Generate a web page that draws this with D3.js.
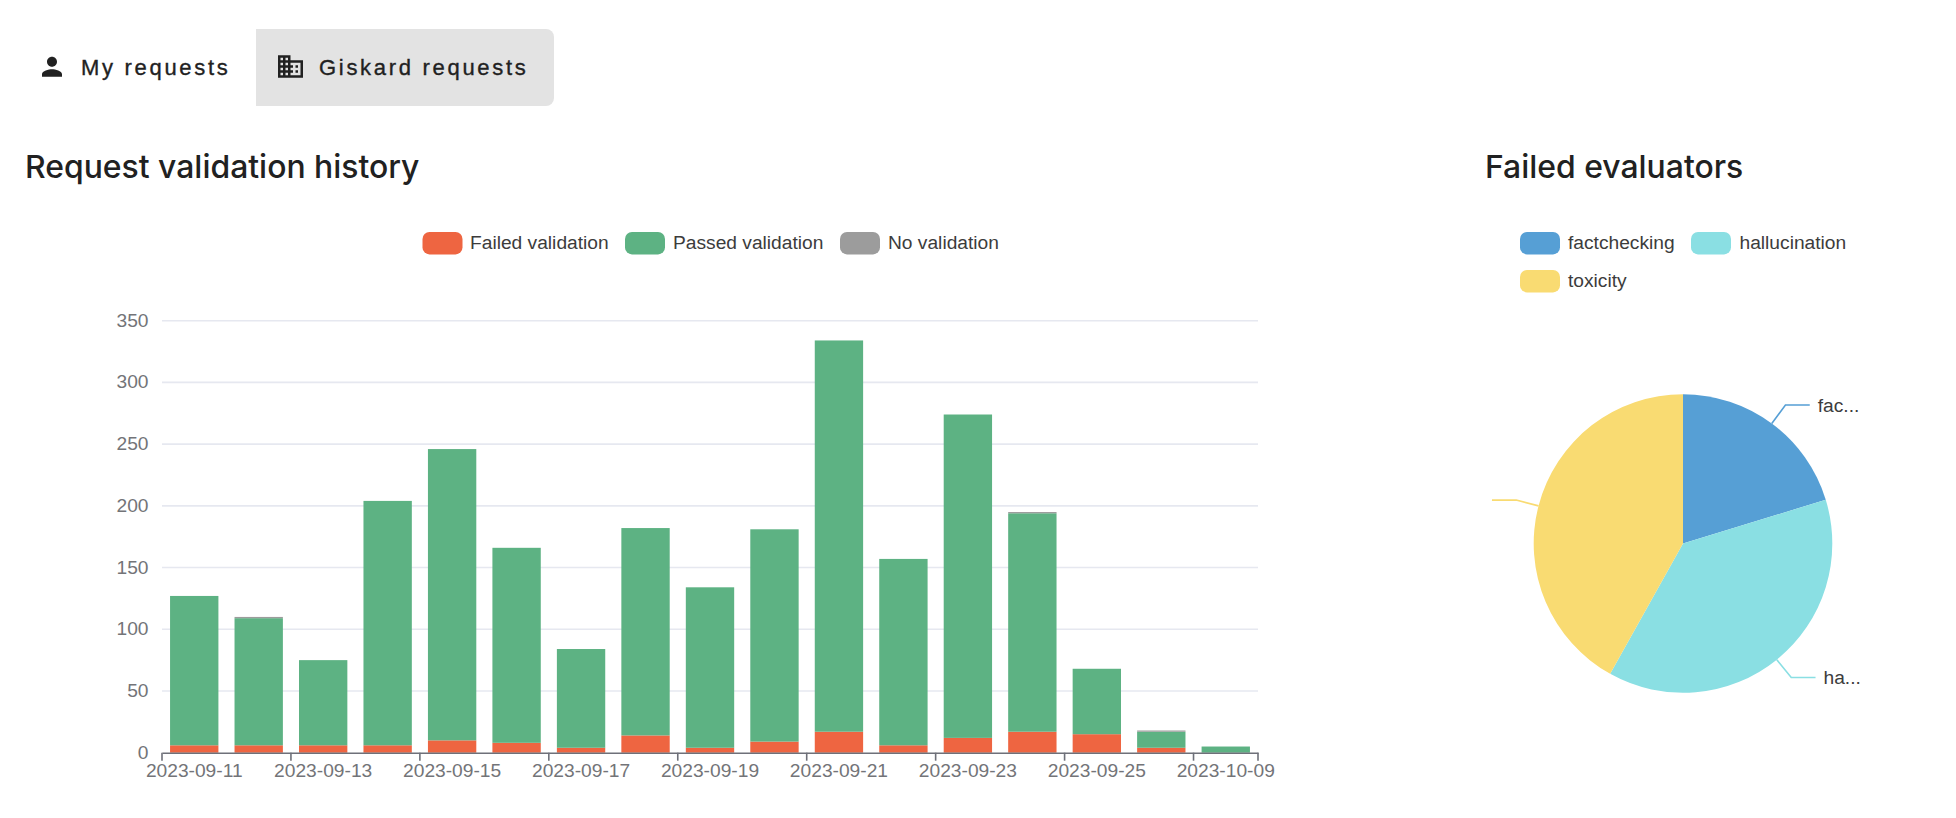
<!DOCTYPE html>
<html>
<head>
<meta charset="utf-8">
<script src="https://d3js.org/d3.v7.min.js"></script>
<style>
  html, body { margin: 0; padding: 0; background: #fff; overflow: hidden; }
  text { font-family: "Liberation Sans", Arial, sans-serif; }
  .title { font-family: Inter, "Liberation Sans", sans-serif; font-weight: 500; fill: #212121; }
</style>
</head>
<body>
<svg id="page" width="1956" height="818"></svg>
<script>
// chart values
const dates = ["2023-09-11","2023-09-12","2023-09-13","2023-09-14","2023-09-15","2023-09-16","2023-09-17","2023-09-18","2023-09-19","2023-09-20","2023-09-21","2023-09-22","2023-09-23","2023-09-24","2023-09-25","2023-09-26","2023-10-09"];
const failed = [6,6,6,6,10,8,4,14,4,9,17,6,12,17,15,4,0];
const passed = [121,103,69,198,236,158,80,168,130,172,317,151,262,177,53,13,5];
const noValidation = [0,1,0,0,0,0,0,0,0,0,0,0,0,1,0,1,0];
const yTicks = [0,50,100,150,200,250,300,350];
const xLabels = ["2023-09-11","2023-09-13","2023-09-15","2023-09-17","2023-09-19","2023-09-21","2023-09-23","2023-09-25","2023-10-09"];

const seriesNames = ["Failed validation","Passed validation","No validation"];
const seriesColors = ["#ee6541","#5db283","#9c9c9c"];

const evaluators = ["factchecking","hallucination","toxicity"];
const evaluatorCounts = [30,56,62];
const evaluatorLabels = ["fac...","ha...",""];
const evaluatorColors = ["#569fd5","#8adfe3","#f9db72"];

const axisColor = "#6e7079";
const labelColor = "#737478";
const textColor = "#3c3c3c";

const svg = d3.select("#page");

// tabs
const personIcon = "M12 12c2.21 0 4-1.79 4-4s-1.79-4-4-4-4 1.79-4 4 1.79 4 4 4zm0 2c-2.67 0-8 1.34-8 4v2h16v-2c0-2.66-5.33-4-8-4z";
const domainIcon = "M12 7V3H2v18h20V7H12zM6 19H4v-2h2v2zm0-4H4v-2h2v2zm0-4H4V9h2v2zm0-4H4V5h2v2zm4 12H8v-2h2v2zm0-4H8v-2h2v2zm0-4H8V9h2v2zm0-4H8V5h2v2zm10 12h-8v-2h2v-2h-2v-2h2v-2h-2V9h8v10zm-2-8h-2v2h2v-2zm0 4h-2v2h2v-2z";
svg.append("path")
  .attr("d", "M256 29H546a8 8 0 0 1 8 8V98a8 8 0 0 1 -8 8H256Z")
  .attr("fill", "#e3e3e3");
svg.append("path").attr("d", personIcon).attr("fill", "#212121")
  .attr("transform", "translate(37,51.7) scale(1.25)");
svg.append("path").attr("d", domainIcon).attr("fill", "#212121")
  .attr("transform", "translate(275.5,51.5) scale(1.25)");
[["My requests", 81], ["Giskard requests", 319]].forEach(t => {
  svg.append("text").text(t[0])
    .attr("x", t[1]).attr("y", 75)
    .attr("font-size", 22).attr("letter-spacing", 2.7).attr("fill", "#212121")
    .attr("stroke", "#212121").attr("stroke-width", 0.35);
});

// headings
svg.append("text").attr("class", "title").text("Request validation history")
  .attr("x", 25).attr("y", 177.5).attr("font-size", 31.9);
svg.append("text").attr("class", "title").text("Failed evaluators")
  .attr("x", 1485).attr("y", 177.5).attr("font-size", 31.9);

// legends
function legendItem(x, y, label, color, textX) {
  svg.append("rect").attr("x", x).attr("y", y).attr("width", 40).attr("height", 22.4)
    .attr("rx", 7).attr("fill", color);
  svg.append("text").text(label).attr("x", textX).attr("y", y + 10.4)
    .attr("dy", "0.35em").attr("font-size", 19.2).attr("fill", textColor);
}
[[422.5, 470], [625, 673], [840, 888]].forEach((p, i) => {
  legendItem(p[0], 232, seriesNames[i], seriesColors[i], p[1]);
});
[[1520, 232, 1568], [1691, 232, 1739.5], [1520, 270, 1568]].forEach((p, i) => {
  legendItem(p[0], p[1], evaluators[i], evaluatorColors[i], p[2]);
});

// stacked bars
const x = d3.scaleBand().domain(dates).range([162, 1258]).paddingInner(0.25).paddingOuter(0.125);
const y = d3.scaleLinear().domain([0, 350]).range([752.7, 320.7]);

svg.append("g").selectAll("line").data(yTicks.slice(1)).join("line")
  .attr("x1", 162).attr("x2", 1258)
  .attr("y1", d => y(d)).attr("y2", d => y(d))
  .attr("stroke", "#e6e8f0").attr("stroke-width", 1.6);

const rows = dates.map((d, i) => ({ date: d, failed: failed[i], passed: passed[i], none: noValidation[i] }));
const stacked = d3.stack().keys(["failed","passed","none"])(rows);
svg.append("g").selectAll("g").data(stacked).join("g")
  .attr("fill", (d, i) => seriesColors[i])
  .selectAll("rect").data(d => d).join("rect")
  .attr("x", d => x(d.data.date))
  .attr("width", x.bandwidth())
  .attr("y", d => y(d[1]))
  .attr("height", d => y(d[0]) - y(d[1]));

// y axis labels only, echarts style
const yAxis = svg.append("g").attr("transform", "translate(162,-0.6)")
  .call(d3.axisLeft(y).tickValues(yTicks).tickSize(0).tickPadding(13.5));
yAxis.select(".domain").remove();
yAxis.selectAll("text").attr("font-size", 19.2).attr("fill", labelColor).attr("font-family", null);

// x axis, ticks sit on the band edges and labels in the band centres
const xAxis = svg.append("g").attr("transform", "translate(0,752.7)")
  .call(d3.axisBottom(x).tickValues(xLabels).tickSize(0).tickPadding(11));
xAxis.select(".domain").attr("stroke", axisColor).attr("stroke-width", 1.6);
xAxis.selectAll("text").attr("font-size", 19.2).attr("fill", labelColor).attr("font-family", null);
const step = x.step();
const tickEdges = xLabels.map(d => x(d) - x.paddingOuter() * step).concat([x.range()[1]]);
xAxis.append("g").selectAll("line").data(tickEdges).join("line")
  .attr("x1", d => d).attr("x2", d => d)
  .attr("y1", 0).attr("y2", 8)
  .attr("stroke", axisColor).attr("stroke-width", 1.6);

// pie
const pieCx = 1683, pieCy = 543.5, pieR = 149.3;
const slices = d3.pie().sort(null)(evaluatorCounts);
const pieG = svg.append("g").attr("transform", `translate(${pieCx},${pieCy})`);
pieG.selectAll("path").data(slices).join("path")
  .attr("d", d3.arc().innerRadius(0).outerRadius(pieR))
  .attr("fill", (d, i) => evaluatorColors[i]);

// label lines, elbow is 23px out of the pie and then a flat run
const edgeArc = d3.arc().innerRadius(pieR).outerRadius(pieR);
const elbowArc = d3.arc().innerRadius(pieR + 23).outerRadius(pieR + 23);
slices.forEach((s, i) => {
  const a = edgeArc.centroid(s), b = elbowArc.centroid(s);
  const side = b[0] > 0 ? 1 : -1;
  const c = [b[0] + side * 24.3, b[1]];
  pieG.append("path").attr("d", d3.line()([a, b, c]))
    .attr("fill", "none").attr("stroke", evaluatorColors[i]).attr("stroke-width", 1.6);
  pieG.append("text").text(evaluatorLabels[i])
    .attr("x", c[0] + side * 8).attr("y", c[1]).attr("dy", "0.35em")
    .attr("text-anchor", side > 0 ? "start" : "end")
    .attr("font-size", 19.2).attr("fill", textColor);
});
</script>
</body>
</html>
